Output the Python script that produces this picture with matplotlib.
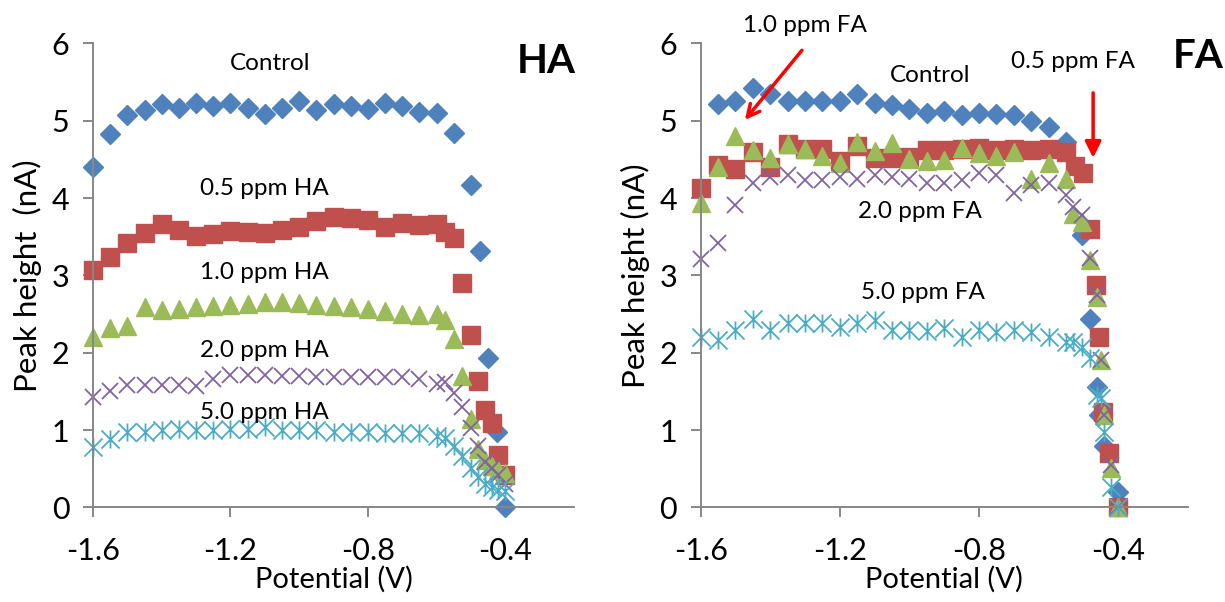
import matplotlib

matplotlib.use("Agg")
import matplotlib.pyplot as plt
from matplotlib.path import Path

# ---- data (potential in V, peak height in nA) ----
v_main = [-1.60, -1.55, -1.50, -1.45, -1.40, -1.35, -1.30, -1.25, -1.20, -1.15, -1.10,
          -1.05, -1.00, -0.95, -0.90, -0.85, -0.80, -0.75, -0.70, -0.65, -0.60]

# HA panel
ha_ctrl_v = v_main + [-0.55, -0.50, -0.475, -0.45, -0.425, -0.40]
ha_ctrl = [4.40, 4.83, 5.08, 5.14, 5.22, 5.16, 5.23, 5.19, 5.23, 5.17, 5.09,
           5.17, 5.26, 5.14, 5.22, 5.19, 5.15, 5.23, 5.19, 5.11, 5.10,
           4.84, 4.17, 3.31, 1.93, 0.98, 0.00]

ha_tail_v = [-0.575, -0.55, -0.525, -0.50, -0.48, -0.46, -0.44, -0.42, -0.40]
ha_05 = [3.07, 3.24, 3.42, 3.55, 3.67, 3.59, 3.51, 3.53, 3.57, 3.56, 3.55,
         3.59, 3.63, 3.70, 3.76, 3.74, 3.71, 3.63, 3.68, 3.65, 3.67,
         3.56, 3.48, 2.90, 2.23, 1.63, 1.26, 1.09, 0.68, 0.42]
ha_10 = [2.20, 2.32, 2.35, 2.59, 2.55, 2.57, 2.59, 2.60, 2.62, 2.63, 2.65,
         2.65, 2.64, 2.62, 2.61, 2.59, 2.57, 2.54, 2.50, 2.49, 2.50,
         2.42, 2.18, 1.70, 1.15, 0.76, 0.62, 0.53, 0.48, 0.44]
ha_20 = [1.43, 1.51, 1.58, 1.58, 1.58, 1.58, 1.57, 1.66, 1.71, 1.71, 1.71,
         1.70, 1.70, 1.69, 1.69, 1.69, 1.69, 1.69, 1.69, 1.66, 1.60,
         1.62, 1.48, 1.30, 1.03, 0.79, 0.59, 0.51, 0.42, 0.31]
ha_50 = [0.78, 0.88, 0.97, 0.97, 1.00, 1.02, 1.00, 1.00, 1.01, 1.02, 1.04,
         1.00, 1.00, 1.00, 0.98, 0.98, 0.98, 0.96, 0.96, 0.96, 0.93,
         0.90, 0.80, 0.66, 0.51, 0.39, 0.31, 0.26, 0.23, 0.21]

# FA panel
fa_ctrl_v = v_main[1:] + [-0.55, -0.505, -0.48, -0.46, -0.455, -0.44, -0.40]
fa_ctrl = [5.21, 5.26, 5.42, 5.34, 5.26, 5.25, 5.26, 5.25, 5.34, 5.23,
           5.20, 5.15, 5.10, 5.12, 5.08, 5.10, 5.09, 5.08, 5.00, 4.92,
           4.73, 3.52, 2.44, 1.56, 1.19, 0.79, 0.20]

fa_05_v = v_main + [-0.55, -0.525, -0.50, -0.48, -0.465, -0.455, -0.445, -0.425, -0.40]
fa_05 = [4.13, 4.43, 4.38, 4.60, 4.40, 4.70, 4.63, 4.64, 4.48, 4.67, 4.52,
         4.52, 4.53, 4.62, 4.62, 4.64, 4.65, 4.62, 4.63, 4.62, 4.64,
         4.60, 4.41, 4.32, 3.60, 2.88, 2.20, 1.24, 0.70, 0.00]

fa_tail_v = [-0.55, -0.53, -0.505, -0.48, -0.46, -0.45, -0.44, -0.42, -0.40]
fa_10 = [3.93, 4.40, 4.80, 4.62, 4.52, 4.70, 4.64, 4.55, 4.45, 4.73, 4.61,
         4.71, 4.50, 4.48, 4.49, 4.65, 4.58, 4.55, 4.60, 4.25, 4.45,
         4.25, 3.80, 3.69, 3.20, 2.72, 1.91, 1.19, 0.51, 0.00]
fa_20 = [3.21, 3.42, 3.91, 4.20, 4.27, 4.30, 4.23, 4.23, 4.27, 4.25, 4.30,
         4.27, 4.24, 4.19, 4.20, 4.23, 4.32, 4.30, 4.06, 4.17, 4.19,
         4.04, 3.89, 3.78, 3.22, 2.75, 1.91, 1.20, 0.55, 0.00]
fa_50 = [2.20, 2.16, 2.29, 2.44, 2.30, 2.39, 2.38, 2.38, 2.33, 2.39, 2.42,
         2.29, 2.30, 2.28, 2.32, 2.20, 2.29, 2.27, 2.29, 2.27, 2.21,
         2.14, 2.14, 2.08, 1.93, 1.45, 1.41, 0.98, 0.27, 0.01]

x_ticks = [-1.6, -1.2, -0.8, -0.4]
y_ticks = [0, 1, 2, 3, 4, 5, 6]

# ---- style ----
plt.rcParams["font.family"] = ["Lato", "DejaVu Sans"]

BLUE, RED, GREEN, PURPLE, CYAN = "#4F81BD", "#C0504D", "#9BBB59", "#8064A2", "#4BACC6"
AXIS_GREY = "#878787"

# excel "star" marker: an x with a vertical bar through it
STAR = Path(
    [(-1, -1), (1, 1), (-1, 1), (1, -1), (0, -1), (0, 1)],
    [Path.MOVETO, Path.LINETO] * 3,
)

series_style = dict(
    ctrl=dict(marker="D", ms=10.5, color=BLUE, mec=BLUE),
    c05=dict(marker="s", ms=13.5, color=RED, mec=RED),
    c10=dict(marker="^", ms=13.5, color=GREEN, mec=GREEN),
    c20=dict(marker="x", ms=12, color=PURPLE, mew=1.3),
    c50=dict(marker=STAR, ms=13, color=CYAN, mew=1.3, mfc="none"),
)


def style_axes(ax, ylabel):
    ax.set_xlim(-1.6, -0.2)
    ax.set_ylim(0, 6)
    ax.set_xticks(x_ticks)
    ax.set_xticklabels([f"{t:.1f}" for t in x_ticks])
    ax.set_yticks(y_ticks)
    for s in ("top", "right"):
        ax.spines[s].set_visible(False)
    for s in ("left", "bottom"):
        ax.spines[s].set_color(AXIS_GREY)
        ax.spines[s].set_linewidth(1.4)
    ax.tick_params(direction="out", length=7, width=1.4, color=AXIS_GREY,
                   labelsize=22, pad=14)
    ax.tick_params(axis="y", pad=10)
    ax.set_xlabel("Potential (V)", fontsize=21, labelpad=1)
    ax.set_ylabel(ylabel, fontsize=22.5, labelpad=7)


def plot_series(ax, x, y, key):
    ax.plot(x, y, ls="none", clip_on=False, **series_style[key])


fig = plt.figure(figsize=(12.25, 6.02), dpi=100)
ax_ha = fig.add_axes([0.0759, 0.157, 0.3927, 0.771])
ax_fa = fig.add_axes([0.572, 0.157, 0.3976, 0.771])

# HA panel
plot_series(ax_ha, ha_ctrl_v, ha_ctrl, "ctrl")
plot_series(ax_ha, v_main + ha_tail_v, ha_05, "c05")
plot_series(ax_ha, v_main + ha_tail_v, ha_10, "c10")
plot_series(ax_ha, v_main + ha_tail_v, ha_20, "c20")
plot_series(ax_ha, v_main + ha_tail_v, ha_50, "c50")
style_axes(ax_ha, "Peak height  (nA)")

lbl = dict(fontsize=17.5, ha="center", va="center")
ax_ha.text(-1.085, 5.74, "Control", **lbl)
ax_ha.text(-1.10, 4.13, "0.5 ppm HA", **lbl)
ax_ha.text(-1.10, 3.04, "1.0 ppm HA", **lbl)
ax_ha.text(-1.10, 2.03, "2.0 ppm HA", **lbl)
ax_ha.text(-1.10, 1.23, "5.0 ppm HA", **lbl)
ax_ha.text(-0.28, 5.76, "HA", fontsize=29, fontweight="bold", ha="center", va="center")

# FA panel
plot_series(ax_fa, fa_ctrl_v, fa_ctrl, "ctrl")
plot_series(ax_fa, fa_05_v, fa_05, "c05")
plot_series(ax_fa, v_main + fa_tail_v, fa_10, "c10")
plot_series(ax_fa, v_main + fa_tail_v, fa_20, "c20")
plot_series(ax_fa, v_main + fa_tail_v, fa_50, "c50")
style_axes(ax_fa, "Peak height (nA)")

ax_fa.text(-1.30, 6.23, "1.0 ppm FA", **lbl)
ax_fa.text(-0.94, 5.59, "Control", **lbl)
ax_fa.text(-0.53, 5.76, "0.5 ppm FA", **lbl)
ax_fa.text(-0.97, 3.82, "2.0 ppm FA", **lbl)
ax_fa.text(-0.96, 2.78, "5.0 ppm FA", **lbl)
ax_fa.text(-0.17, 5.83, "FA", fontsize=29, fontweight="bold", ha="center", va="center")

ax_fa.annotate("", xy=(-1.473, 5.01), xytext=(-1.309, 5.91),
               arrowprops=dict(arrowstyle="->", color="red", lw=2.5,
                               mutation_scale=22, shrinkA=0, shrinkB=0))
ax_fa.annotate("", xy=(-0.472, 4.52), xytext=(-0.472, 5.36),
               arrowprops=dict(arrowstyle="-|>", color="red", lw=2.5,
                               mutation_scale=24, shrinkA=0, shrinkB=0))

fig.savefig("out.png", dpi=100)
